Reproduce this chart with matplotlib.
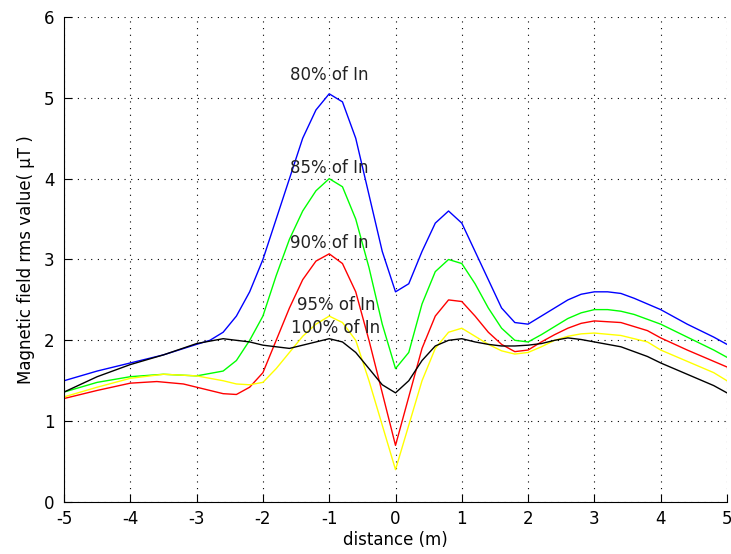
import matplotlib.pyplot as plt

plt.rcParams['font.family'] = ['DejaVu Sans']
plt.rcParams['axes.unicode_minus'] = False

# 80% of In
x_80 = [-5, -4.5, -4, -3.5, -3, -2.8, -2.6, -2.4, -2.2, -2, -1.8, -1.6, -1.4, -1.2, -1, -0.8, -0.6,
        -0.4, -0.2, 0, 0.2, 0.4, 0.6, 0.8, 1.0, 1.2, 1.4, 1.6, 1.8, 2.0, 2.2, 2.4, 2.6, 2.8, 3, 3.2,
        3.4, 3.6, 3.8, 4, 4.2, 4.4, 4.6, 4.8, 5]
y_80 = [1.5, 1.62, 1.72, 1.82, 1.95, 2.0, 2.1, 2.3, 2.6, 3.0, 3.5, 4.0, 4.5, 4.85, 5.05, 4.95, 4.5,
        3.8, 3.1, 2.6, 2.7, 3.1, 3.45, 3.6, 3.45, 3.1, 2.75, 2.4, 2.22, 2.2, 2.3, 2.4, 2.5, 2.57, 2.6, 2.6,
        2.58, 2.52, 2.45, 2.38, 2.29, 2.2, 2.12, 2.04, 1.95]

# 85% of In
x_85 = [-5, -4.5, -4, -3.5, -3, -2.6, -2.4, -2.2, -2, -1.8, -1.6, -1.4, -1.2, -1, -0.8, -0.6, -0.4,
        -0.2, 0, 0.2, 0.4, 0.6, 0.8, 1.0, 1.2, 1.4, 1.6, 1.8, 2, 2.2, 2.4, 2.6, 2.8, 3, 3.2, 3.4, 3.6,
        3.8, 4, 4.2, 4.4, 4.6, 4.8, 5]
y_85 = [1.36, 1.48, 1.55, 1.58, 1.56, 1.62, 1.75, 2.0, 2.3, 2.8, 3.25, 3.6, 3.85, 4.0, 3.9, 3.5, 2.9,
        2.2, 1.65, 1.85, 2.45, 2.85, 3.0, 2.95, 2.7, 2.4, 2.15, 2.0, 1.98, 2.07, 2.17, 2.27, 2.34, 2.38, 2.38, 2.36, 2.32,
        2.26, 2.2, 2.12, 2.04, 1.96, 1.88, 1.79]

# 90% of In
x_90 = [-5, -4.5, -4, -3.6, -3.2, -3, -2.6, -2.4, -2.2, -2, -1.8, -1.6, -1.4, -1.2, -1, -0.8, -0.6,
        -0.4, -0.2, 0, 0.2, 0.4, 0.6, 0.8, 1.0, 1.2, 1.4, 1.6, 1.8, 2, 2.2, 2.4, 2.6, 2.8, 3, 3.4,
        3.8, 4, 4.4, 4.8, 5]
y_90 = [1.28, 1.38, 1.47, 1.49, 1.46, 1.42, 1.34, 1.33, 1.42, 1.6, 2.0, 2.4, 2.75, 2.98, 3.07, 2.95, 2.6,
        2.0, 1.35, 0.7, 1.3, 1.9, 2.3, 2.5, 2.48, 2.3, 2.1, 1.95, 1.86, 1.88, 1.98, 2.07, 2.15, 2.21, 2.24, 2.22,
        2.12, 2.03, 1.88, 1.74, 1.67]

# 95% of In
x_95 = [-5, -4.5, -4, -3.5, -3, -2.6, -2.4, -2.2, -2, -1.8, -1.6, -1.4, -1.2, -1.0, -0.8, -0.6, -0.4,
        -0.2, 0, 0.2, 0.4, 0.6, 0.8, 1.0, 1.2, 1.4, 1.6, 1.8, 2.0, 2.2, 2.4, 2.6, 2.8, 3, 3.4, 3.8, 4,
        4.4, 4.8, 5]
y_95 = [1.3, 1.42, 1.53, 1.58, 1.56, 1.5, 1.46, 1.45, 1.48, 1.65, 1.85, 2.05, 2.2, 2.3, 2.22, 2.0, 1.5,
        0.95, 0.4, 0.95, 1.5, 1.9, 2.1, 2.15, 2.05, 1.95, 1.87, 1.83, 1.85, 1.92, 2.0, 2.05, 2.08, 2.09, 2.06, 1.98, 1.88,
        1.74, 1.6, 1.5]

# 100% of In
x_100 = [-5, -4.5, -4, -3.5, -3, -2.6, -2.2, -2, -1.6, -1.2, -1, -0.8, -0.6, -0.4, -0.2, 0, 0.2, 0.4,
         0.6, 0.8, 1.0, 1.2, 1.4, 1.6, 1.8, 2, 2.2, 2.4, 2.6, 2.8, 3, 3.4, 3.8, 4, 4.4, 4.8, 5]
y_100 = [1.36, 1.55, 1.7, 1.82, 1.96, 2.02, 1.98, 1.94, 1.9, 1.98, 2.02, 1.98, 1.85, 1.65, 1.45, 1.35, 1.5, 1.75,
         1.93, 2.0, 2.02, 1.98, 1.95, 1.93, 1.93, 1.94, 1.96, 2.0, 2.03, 2.01, 1.98, 1.92, 1.8, 1.72, 1.58, 1.44, 1.35]

labels = ["80% of In", "85% of In", "90% of In", "95% of In", "100% of In"]
label_x = [-1.0, -1.0, -1.0, -0.9, -0.9]
label_y = [5.28, 4.13, 3.2, 2.44, 2.15]

fig = plt.figure(figsize=(7.31, 5.54), dpi=100)
ax = fig.add_axes([0.0876, 0.0939, 0.9069, 0.8754])

ax.plot(x_80, y_80, color="blue", linewidth=1)
ax.plot(x_85, y_85, color="#00ff00", linewidth=1)
ax.plot(x_90, y_90, color="red", linewidth=1)
ax.plot(x_95, y_95, color="yellow", linewidth=1)
ax.plot(x_100, y_100, color="black", linewidth=1)

for t, tx, ty in zip(labels, label_x, label_y):
    ax.text(tx, ty, t, ha="center", va="center", fontsize=12, color="#222222")

ax.axis([-5, 5, 0, 6])
ax.set_xticks(range(-5, 6))
ax.set_yticks(range(0, 7))
ax.grid(True, color="black", linestyle=(0, (1, 5)), linewidth=0.8)
ax.spines["top"].set_visible(False)
ax.spines["right"].set_visible(False)
ax.tick_params(direction="in", labelsize=12, length=6)
ax.tick_params(axis="y", pad=7)
ax.tick_params(axis="x", pad=6)

ax.set_xlabel("distance (m)", fontsize=12, labelpad=2)
ax.set_ylabel("Magnetic field rms value( μT )", fontsize=12, labelpad=6)

fig.savefig("out.png", dpi=100)
